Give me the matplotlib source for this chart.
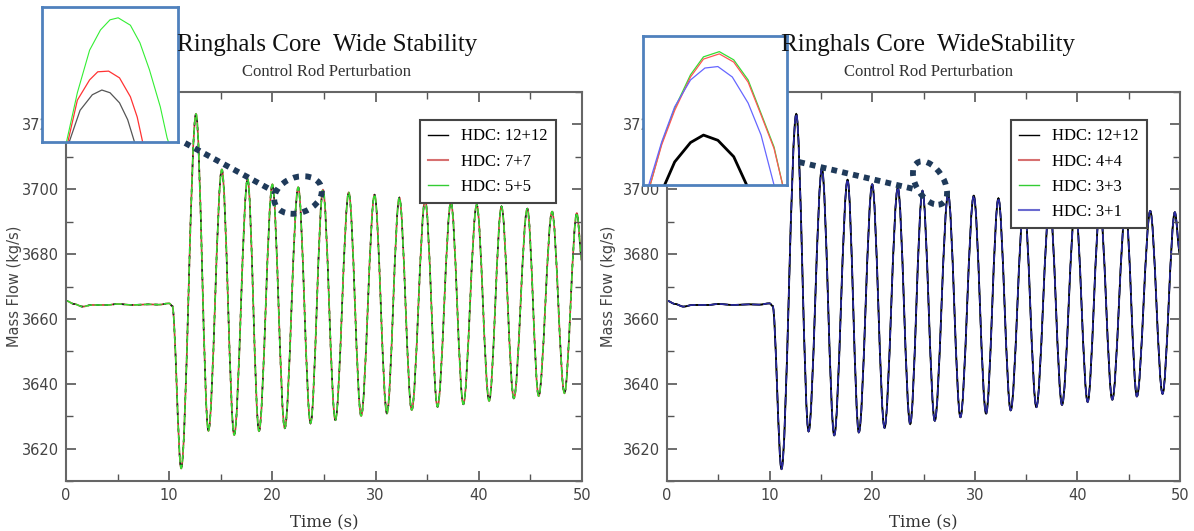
import numpy as np
import matplotlib
matplotlib.use("Agg")
import matplotlib.pyplot as plt
from matplotlib.lines import Line2D
from matplotlib.patches import Ellipse, PathPatch
from matplotlib.path import Path

# Mass flow (kg/s): turning points of the signal
t_main = [0.0, 0.8, 1.6, 2.5, 4.0, 5.0, 6.5, 8.0, 9.0, 10.0, 10.3,
          11.16, 12.6, 13.8, 15.1, 16.3, 17.6, 18.7, 20.0, 21.2, 22.5,
          23.7, 24.9, 26.1, 27.4, 28.6, 29.9, 31.1, 32.3, 33.5, 34.8,
          36.0, 37.3, 38.5, 39.8, 41.0, 42.2, 43.4, 44.7, 45.8, 47.1,
          48.3, 49.5, 50.0]
flow_left = [3665.6, 3664.6, 3663.8, 3664.3, 3664.3, 3664.6, 3664.3, 3664.5, 3664.4, 3664.8, 3664.0,
             3613.9, 3723.2, 3625.5, 3706.1, 3624.2, 3703.2, 3625.4, 3701.5, 3626.3, 3700.6,
             3627.8, 3699.8, 3628.8, 3699.0, 3630.1, 3698.3, 3630.9, 3697.4, 3631.9, 3696.7,
             3632.9, 3696.0, 3633.7, 3695.2, 3634.7, 3694.7, 3635.5, 3694.0, 3636.2, 3693.1,
             3637.1, 3692.6, 3678.0]
flow_right = [3665.6, 3664.6, 3663.8, 3664.3, 3664.3, 3664.6, 3664.3, 3664.5, 3664.4, 3664.8, 3664.0,
              3613.7, 3723.2, 3625.3, 3706.3, 3624.1, 3702.9, 3625.0, 3701.5, 3626.4, 3700.5,
              3627.6, 3699.5, 3628.6, 3698.5, 3629.7, 3698.0, 3630.8, 3697.2, 3631.8, 3696.4,
              3632.8, 3695.8, 3633.5, 3695.1, 3634.4, 3694.5, 3635.1, 3693.9, 3636.1, 3693.3,
              3636.9, 3692.9, 3680.0]

labels_left = ["HDC: 12+12", "HDC: 7+7", "HDC: 5+5"]
labels_right = ["HDC: 12+12", "HDC: 4+4", "HDC: 3+3", "HDC: 3+1"]

# zoomed peak near t = 22.5 s (left inset)
inL_t_green = [22.18, 22.26, 22.35, 22.43, 22.50, 22.56, 22.65, 22.72, 22.79, 22.87, 22.92, 22.93]
inL_f_green = [3699.00, 3699.73, 3700.36, 3700.66, 3700.81, 3700.84, 3700.73, 3700.47, 3700.07, 3699.52, 3699.06, 3699.00]
inL_t_red = [22.19, 22.26, 22.35, 22.41, 22.49, 22.57, 22.65, 22.70, 22.74]
inL_f_red = [3699.00, 3699.62, 3699.92, 3700.04, 3700.05, 3699.95, 3699.67, 3699.37, 3699.00]
inL_t_black = [22.20, 22.28, 22.37, 22.44, 22.50, 22.57, 22.63, 22.68]
inL_f_black = [3699.00, 3699.47, 3699.70, 3699.77, 3699.73, 3699.58, 3699.33, 3699.00]

# zoomed peak near t = 25 s (right inset)
inR_t_gr = [24.55, 24.63, 24.72, 24.83, 24.92, 25.03, 25.13, 25.23, 25.32, 25.41, 25.47]
inR_f_green = [3698.00, 3698.56, 3699.03, 3699.48, 3699.72, 3699.79, 3699.68, 3699.41, 3698.96, 3698.51, 3698.00]
inR_f_red = [3698.00, 3698.54, 3699.00, 3699.45, 3699.69, 3699.76, 3699.65, 3699.38, 3698.94, 3698.49, 3698.00]
inR_t_blue = [24.54, 24.63, 24.72, 24.83, 24.93, 25.02, 25.12, 25.23, 25.32, 25.41]
inR_f_blue = [3698.00, 3698.58, 3699.05, 3699.41, 3699.57, 3699.59, 3699.45, 3699.10, 3698.67, 3698.00]
inR_t_black = [24.65, 24.72, 24.83, 24.92, 25.02, 25.13, 25.22]
inR_f_black = [3698.00, 3698.31, 3698.57, 3698.67, 3698.60, 3698.38, 3698.00]

W, H = 1194, 531
fig = plt.figure(figsize=(W / 100, H / 100), dpi=100)


def px_box(x0, y0, x1, y1):
    # pixel box (top-left origin) -> figure fraction rect
    return [x0 / W, 1 - y1 / H, (x1 - x0) / W, (y1 - y0) / H]


def wave(ax, t, f, **kw):
    # smooth curve through the turning points: cubic segments with flat
    # tangents at each turning point, drawn by matplotlib's own path renderer
    verts = [(t[0], f[0])]
    codes = [Path.MOVETO]
    for i in range(len(t) - 1):
        dt = t[i + 1] - t[i]
        verts += [(t[i] + dt / 3, f[i]), (t[i + 1] - dt / 3, f[i + 1]), (t[i + 1], f[i + 1])]
        codes += [Path.CURVE4] * 3
    ax.add_patch(PathPatch(Path(verts, codes), fill=False, **kw))


def style_axes(ax, ylab_x):
    ax.set_xlim(0, 50)
    ax.set_ylim(3610, 3730)
    ax.set_xticks(np.arange(0, 51, 10))
    ax.set_xticks(np.arange(0, 51, 5), minor=True)
    ax.set_yticks(np.arange(3620, 3721, 20))
    ax.set_yticks(np.arange(3610, 3731, 10), minor=True)
    ax.tick_params(which="both", direction="in", top=True, right=True,
                   colors="#555555", labelcolor="#444444", labelsize=10.5)
    ax.tick_params(which="major", length=7, width=1.2, pad=5)
    ax.tick_params(which="minor", length=5, width=1.0)
    for s in ax.spines.values():
        s.set_color("#666666")
        s.set_linewidth(1.5)
    ax.set_xlabel("Time (s)", fontsize=12, family="DejaVu Serif", color="#333333", labelpad=8)
    ax.set_ylabel("Mass Flow (kg/s)", fontsize=10.5, family="DejaVu Sans", color="#444444")
    ax.yaxis.set_label_coords(ylab_x, 0.5)


def inset_frame(ax):
    ax.set_xticks([])
    ax.set_yticks([])
    for s in ax.spines.values():
        s.set_color("#4f81bd")
        s.set_linewidth(2)


def titles(xc, title):
    fig.text(xc / W, 1 - 45 / H, title, ha="center", va="center",
             fontsize=18, family="Liberation Serif", color="#111111")
    fig.text(xc / W, 1 - 72 / H, "Control Rod Perturbation", ha="center", va="center",
             fontsize=12, family="Liberation Serif", color="#333333")


def dotted(pts, ell):
    xs = [p[0] / W for p in pts]
    ys = [1 - p[1] / H for p in pts]
    fig.add_artist(Line2D(xs, ys, transform=fig.transFigure, color="#1f3a5a",
                          lw=4.2, linestyle=(0, (1, 0.9)), dash_capstyle="butt", zorder=20))
    cx, cy, w, h, ang = ell
    fig.add_artist(Ellipse((cx / W, 1 - cy / H), w / W, h / H, angle=ang, transform=fig.transFigure,
                           fill=False, edgecolor="#1f3a5a", lw=4.2, linestyle=(0, (1, 1.1)), zorder=20))


leg_kw = dict(loc="upper right", frameon=True, fancybox=False, framealpha=1,
              edgecolor="#444444", handlelength=1.2, labelspacing=0.55, borderpad=0.5,
              handletextpad=0.8, borderaxespad=0, prop={"family": "Liberation Serif", "size": 12})

# ---------- left panel ----------
axL = fig.add_axes(px_box(66, 92, 582, 481))
wave(axL, t_main, flow_left, edgecolor="#cc3333", lw=1.2)
wave(axL, t_main, flow_left, edgecolor="#222222", lw=1.2, linestyle=(1, (2, 3)))
wave(axL, t_main, flow_left, edgecolor="#33dd33", lw=1.1, linestyle=(0, (5, 1.5)))
style_axes(axL, -0.085)
hL = [Line2D([], [], color="black", lw=1),
      Line2D([], [], color="#d77070", lw=1.5),
      Line2D([], [], color="#33cc33", lw=1)]
legL = axL.legend(hL, labels_left, bbox_to_anchor=(0.95, 0.928), **leg_kw)
legL.get_frame().set_linewidth(1.5)
titles(327, "Ringhals Core  Wide Stability")

# ---------- right panel ----------
axR = fig.add_axes(px_box(667, 92, 1180, 481))
wave(axR, t_main, flow_right, edgecolor="#dd4444", lw=1.0)
wave(axR, t_main, flow_right, edgecolor="#33cc33", lw=1.0)
wave(axR, t_main, flow_right, edgecolor="black", lw=1.3)
wave(axR, t_main, flow_right, edgecolor="#2a2aa0", lw=1.2, linestyle=(0, (5, 1.5)))
style_axes(axR, -0.10)
hR = [Line2D([], [], color="black", lw=1),
      Line2D([], [], color="#d77070", lw=1.5),
      Line2D([], [], color="#33cc33", lw=1),
      Line2D([], [], color="#6a6ad0", lw=1.5)]
legR = axR.legend(hR, labels_right, bbox_to_anchor=(0.936, 0.928), **leg_kw)
legR.get_frame().set_linewidth(1.5)
titles(928, "Ringhals Core  WideStability")

# ---------- insets ----------
inL = fig.add_axes(px_box(42, 7, 178, 142))
inL.plot(inL_t_black, inL_f_black, color="#555555", lw=0.9)
inL.plot(inL_t_red, inL_f_red, color="#ff3333", lw=0.9)
inL.plot(inL_t_green, inL_f_green, color="#33ee33", lw=0.8)
inL.set_xlim(22.0, 23.0)
inL.set_ylim(3699.0, 3701.0)
inset_frame(inL)

inR = fig.add_axes(px_box(643, 36, 787, 185))
inR.plot(inR_t_gr, inR_f_green, color="#33dd33", lw=0.9)
inR.plot(inR_t_gr, inR_f_red, color="#ff5555", lw=0.9)
inR.plot(inR_t_blue, inR_f_blue, color="#6666ff", lw=0.9)
inR.plot(inR_t_black, inR_f_black, color="black", lw=2.0)
inR.set_xlim(24.5, 25.5)
inR.set_ylim(3698.0, 3700.0)
inset_frame(inR)

# dotted call-outs from inset to the zoomed peak
dotted([(185, 143), (275, 192)], (298, 195, 46, 38, -10))
dotted([(799, 162), (914, 189)], (930, 183, 30, 44, 10))

fig.savefig("out.png", dpi=100)
